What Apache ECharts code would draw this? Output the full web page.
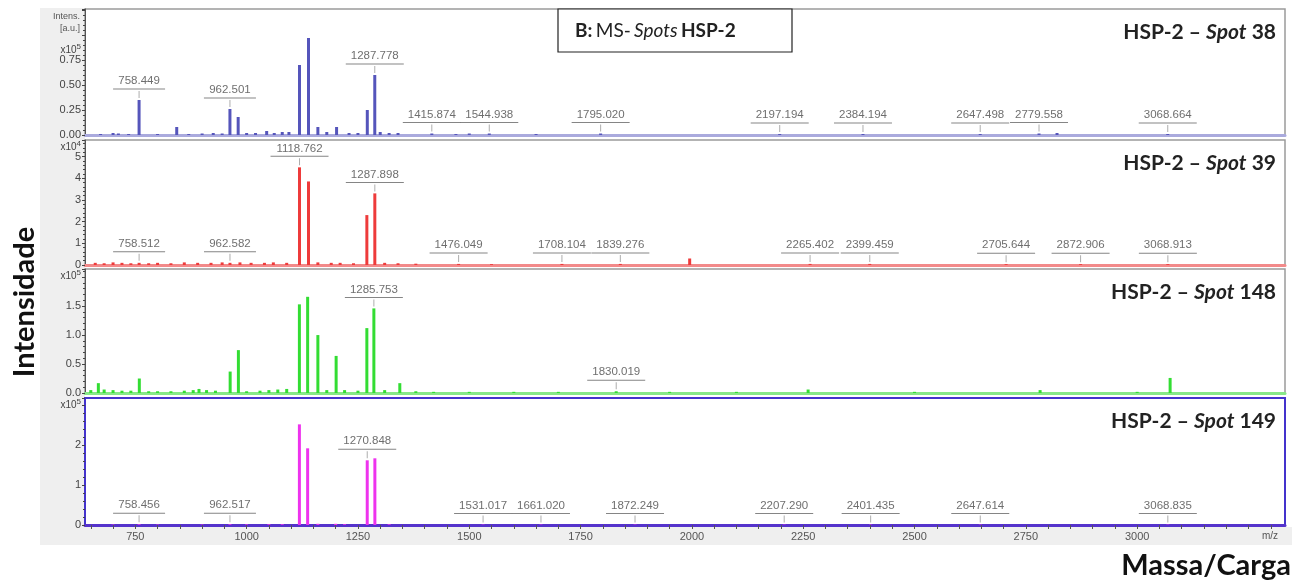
<!DOCTYPE html>
<html><head><meta charset="utf-8">
<script src="https://cdn.jsdelivr.net/npm/echarts@6/dist/echarts.min.js"></script>
<style>html,body{margin:0;padding:0;background:#fff}#c{width:1310px;height:585px}</style>
</head><body><div id="c"></div>
<script>
// ---- DATA ----
const xTicks = [750, 1000, 1250, 1500, 1750, 2000, 2250, 2500, 2750, 3000];
const panelTitles = ['38', '39', '148', '149'];
const yUnits = ['5', '4', '5', '5'];
const yTicks38 = [0, 0.25, 0.5, 0.75];
const yTicks39 = [0, 1, 2, 3, 4, 5];
const yTicks148 = [0, 0.5, 1.0, 1.5];
const yTicks149 = [0, 1, 2];

// spectra: [m/z, intensity] (intensity in units of the panel's axis multiplier)
const spot38 = [[672,0.01],[700,0.02],[712,0.015],[735,0.01],[758.449,0.35],[800,0.01],[843,0.08],[870,0.01],[900,0.015],[925,0.02],[945,0.015],
  [962.501,0.26],[981,0.18],[1000,0.02],[1020,0.02],[1045,0.04],[1062,0.02],[1080,0.03],[1095,0.03],[1118.762,0.70],[1139,0.97],
  [1160,0.08],[1180,0.03],[1202,0.08],[1230,0.02],[1250,0.02],[1271,0.25],[1287.778,0.60],[1300,0.03],[1320,0.02],[1340,0.02],
  [1415.874,0.015],[1470,0.01],[1500,0.015],[1544.938,0.015],[1650,0.01],[1795.020,0.015],[2197.194,0.01],[2384.194,0.01],
  [2647.498,0.01],[2779.558,0.015],[2820,0.02],[3068.664,0.01]];
const spot39 = [[660,0.1],[680,0.08],[700,0.12],[720,0.1],[740,0.08],[758.512,0.1],[780,0.08],[800,0.1],[830,0.08],[860,0.12],[890,0.1],
  [920,0.1],[945,0.12],[962.582,0.1],[985,0.12],[1010,0.1],[1040,0.1],[1060,0.12],[1090,0.1],[1118.762,4.5],[1139,3.85],[1160,0.12],
  [1190,0.1],[1210,0.1],[1240,0.08],[1270,2.3],[1287.898,3.3],[1310,0.1],[1340,0.08],[1380,0.06],[1476.049,0.05],[1550,0.04],
  [1708.104,0.05],[1839.276,0.05],[1995,0.3],[2265.402,0.05],[2399.459,0.05],[2705.644,0.04],[2872.906,0.04],[3068.913,0.04]];
const spot148 = [[650,0.05],[667,0.17],[680,0.06],[700,0.05],[720,0.04],[740,0.04],[759,0.25],[780,0.03],[800,0.03],[830,0.03],
  [860,0.04],[880,0.05],[893,0.07],[910,0.05],[930,0.04],[963,0.37],[981.5,0.74],[1000,0.03],[1030,0.04],[1050,0.05],[1070,0.06],
  [1090,0.07],[1118.5,1.53],[1137,1.66],[1160,1.0],[1180,0.05],[1201,0.64],[1220,0.05],[1250,0.04],[1270,1.12],[1285.753,1.46],
  [1310,0.05],[1344,0.17],[1380,0.03],[1420,0.02],[1500,0.02],[1600,0.02],[1700,0.02],[1830.019,0.03],[1950,0.02],[2100,0.02],
  [2261,0.06],[2500,0.02],[2782,0.05],[3000,0.02],[3074,0.26]];
const spot149 = [[700,0.01],[758.456,0.02],[800,0.01],[900,0.01],[962.517,0.02],[1000,0.015],[1050,0.02],[1080,0.02],[1118.5,2.52],
  [1137,1.92],[1160,0.03],[1200,0.03],[1220,0.02],[1270.848,1.62],[1288,1.67],[1320,0.02],[1531.017,0.01],[1661.020,0.01],
  [1872.249,0.01],[2207.290,0.01],[2401.435,0.01],[2647.614,0.01],[3068.835,0.01]];

// labelled peaks
const labels38 = ['758.449','962.501','1287.778','1415.874','1544.938','1795.020','2197.194','2384.194','2647.498','2779.558','3068.664'];
const labels39 = ['758.512','962.582','1118.762','1287.898','1476.049','1708.104','1839.276','2265.402','2399.459','2705.644','2872.906','3068.913'];
const labels148 = ['1285.753','1830.019'];
const labels149 = ['758.456','962.517','1270.848','1531.017','1661.020','1872.249','2207.290','2401.435','2647.614','3068.835'];

// ---- LAYOUT / STYLE ----
const spectra = [spot38, spot39, spot148, spot149];
const labelSets = [labels38, labels39, labels148, labels149];
const yTickSets = [yTicks38, yTicks39, yTicks148, yTicks149];
const yDigits = [2, 0, 1, 0];
const yMax = [1.26, 5.76, 2.14, 3.18];
const yInterval = [0.25, 1, 0.5, 1];
const tops = [9, 140, 269, 398];
const heights = [126, 125, 124, 127];
const colors = ['#5555bb', '#ee3b3b', '#33dd33', '#ee33ee'];
const baseColors = ['#aaaadd', '#f28a8a', '#88e888', '#5533cc'];
const X_MIN = 637, X_MAX = 3332;
const minorTicks = [];
for (let v = 650; v <= 3300; v += 50) minorTicks.push(v);

const LF = '"Liberation Sans", Arial, sans-serif';
const grids = [], xAxes = [], yAxes = [], series = [];
for (let i = 0; i < 4; i++) {
  grids.push({left: 85, right: 25, top: tops[i], height: heights[i], show: true,
    backgroundColor: '#fff', borderColor: i === 3 ? '#4433cc' : '#9a9a9a', borderWidth: i === 3 ? 2 : 1.5});
  const last = i === 3;
  xAxes.push({type: 'value', gridIndex: i, min: X_MIN, max: X_MAX, position: 'bottom',
    axisLine: {show: true, onZero: false, lineStyle: {color: baseColors[i], width: 3}},
    axisTick: last ? {show: true, customValues: minorTicks, length: 4, lineStyle: {color: '#555'}} : {show: false},
    axisLabel: last ? {show: true, customValues: xTicks, color: '#555', fontFamily: LF, fontSize: 11, margin: 6,
      formatter: v => String(v)} : {show: false},
    splitLine: {show: false}});
  const ticks = yTickSets[i], dg = yDigits[i];
  yAxes.push({type: 'value', gridIndex: i, min: 0, max: yMax[i], interval: yInterval[i],
    axisLine: {show: true, lineStyle: {color: i === 3 ? '#4433cc' : '#555', width: i === 3 ? 2 : 1}},
    axisTick: {show: true, length: 3, lineStyle: {color: '#444'}},
    minorTick: {show: true, splitNumber: 5, length: 2, lineStyle: {color: '#444'}},
    axisLabel: {color: '#444', fontFamily: LF, fontSize: 11, margin: 4,
      formatter: v => ticks.some(t => Math.abs(t - v) < 1e-6) ? v.toFixed(dg) : ''},
    splitLine: {show: false}});
  series.push({type: 'bar', xAxisIndex: i, yAxisIndex: i, data: spectra[i], barWidth: 3,
    itemStyle: {color: colors[i]}, silent: true, animation: false});
  const sp = spectra[i];
  const lab = labelSets[i].map(s => {
    const mz = parseFloat(s);
    let h = 0;
    sp.forEach(p => { if (Math.abs(p[0] - mz) < 0.01) h = p[1]; });
    return [mz, h, s];
  });
  series.push({type: 'scatter', xAxisIndex: i, yAxisIndex: i, data: lab, symbolSize: 1, z: 5,
    itemStyle: {color: 'rgba(0,0,0,0)'}, animation: false, silent: true, labelLayout: {hideOverlap: false},
    label: {show: true, position: 'top', distance: 1, align: 'center',
      formatter: p => '{t|' + p.data[2] + '}\n{u' + p.data[2].length + '| }\n{v| }',
      rich: {
        t: {fontSize: 11.5, fontFamily: LF, color: '#4a4a4a', lineHeight: 13, align: 'center'},
        u7: {width: 52, height: 1, lineHeight: 3, backgroundColor: '#666', fontSize: 1, align: 'center'},
        u8: {width: 58, height: 1, lineHeight: 3, backgroundColor: '#666', fontSize: 1, align: 'center'},
        v: {width: 1, height: 7, lineHeight: 8, backgroundColor: '#999', fontSize: 1, align: 'center'}
      }}});
}

const TF = 'Lato, "Open Sans", sans-serif';
const graphic = [
  {type: 'rect', z: -10, shape: {x: 40, y: 8, width: 45, height: 537}, style: {fill: '#efefef'}},
  {type: 'rect', z: -10, shape: {x: 40, y: 527, width: 1252, height: 18}, style: {fill: '#efefef'}},
  {type: 'text', x: 80, y: 12, style: {text: 'Intens.', font: '9px ' + LF, fill: '#555', align: 'right'}},
  {type: 'text', x: 80, y: 24, style: {text: '[a.u.]', font: '9px ' + LF, fill: '#555', align: 'right'}},
  {type: 'rect', shape: {x: 558, y: 9, width: 234, height: 43}, style: {fill: '#fff', stroke: '#222', lineWidth: 1.2}, z: 50},
  {type: 'text', z: 51, x: 575, y: 31, style: {text: '{b|B:} {n|MS-} {i|Spots} {b|HSP-2}', verticalAlign: 'middle',
    rich: {b: {font: 'bold 19px ' + TF, fill: '#222'}, n: {font: '19px ' + TF, fill: '#222'}, i: {font: 'italic 19px ' + TF, fill: '#222'}}}},
  {type: 'text', x: 1278, y: 536, style: {text: 'm/z', font: '10px ' + LF, fill: '#555', align: 'right', verticalAlign: 'middle'}},
  {type: 'text', x: 1291, y: 566, style: {text: 'Massa/Carga', font: 'bold 29px ' + TF, fill: '#111', align: 'right', verticalAlign: 'middle'}},
  {type: 'text', x: 25, y: 302, rotation: Math.PI / 2, style: {text: 'Intensidade', font: 'bold 29px ' + TF, fill: '#111', align: 'center', verticalAlign: 'middle'}}
];
const expY = [50, 147, 276, 405];
for (let i = 0; i < 4; i++) {
  graphic.push({type: 'text', x: 81, y: expY[i], z: 20, style: {text: '{a|x10}{b|' + yUnits[i] + '}', align: 'right', verticalAlign: 'middle',
    rich: {a: {font: '10px ' + LF, fill: '#444'}, b: {font: '8px ' + LF, fill: '#444', verticalAlign: 'top', padding: [0, 0, 6, 0]}}}});
  graphic.push({type: 'text', x: 1276, y: tops[i] + 23, z: 20, style: {text: '{b|HSP-2 – }{i|Spot}{b| ' + panelTitles[i] + '}',
    align: 'right', verticalAlign: 'middle',
    rich: {b: {font: 'bold 21px ' + TF, fill: '#222'}, i: {font: 'italic bold 21px ' + TF, fill: '#222'}}}});
}

const chart = echarts.init(document.getElementById('c'), null, {renderer: 'canvas'});
chart.setOption({animation: false, grid: grids, xAxis: xAxes, yAxis: yAxes, series: series, graphic: graphic});
</script>
</body></html>
